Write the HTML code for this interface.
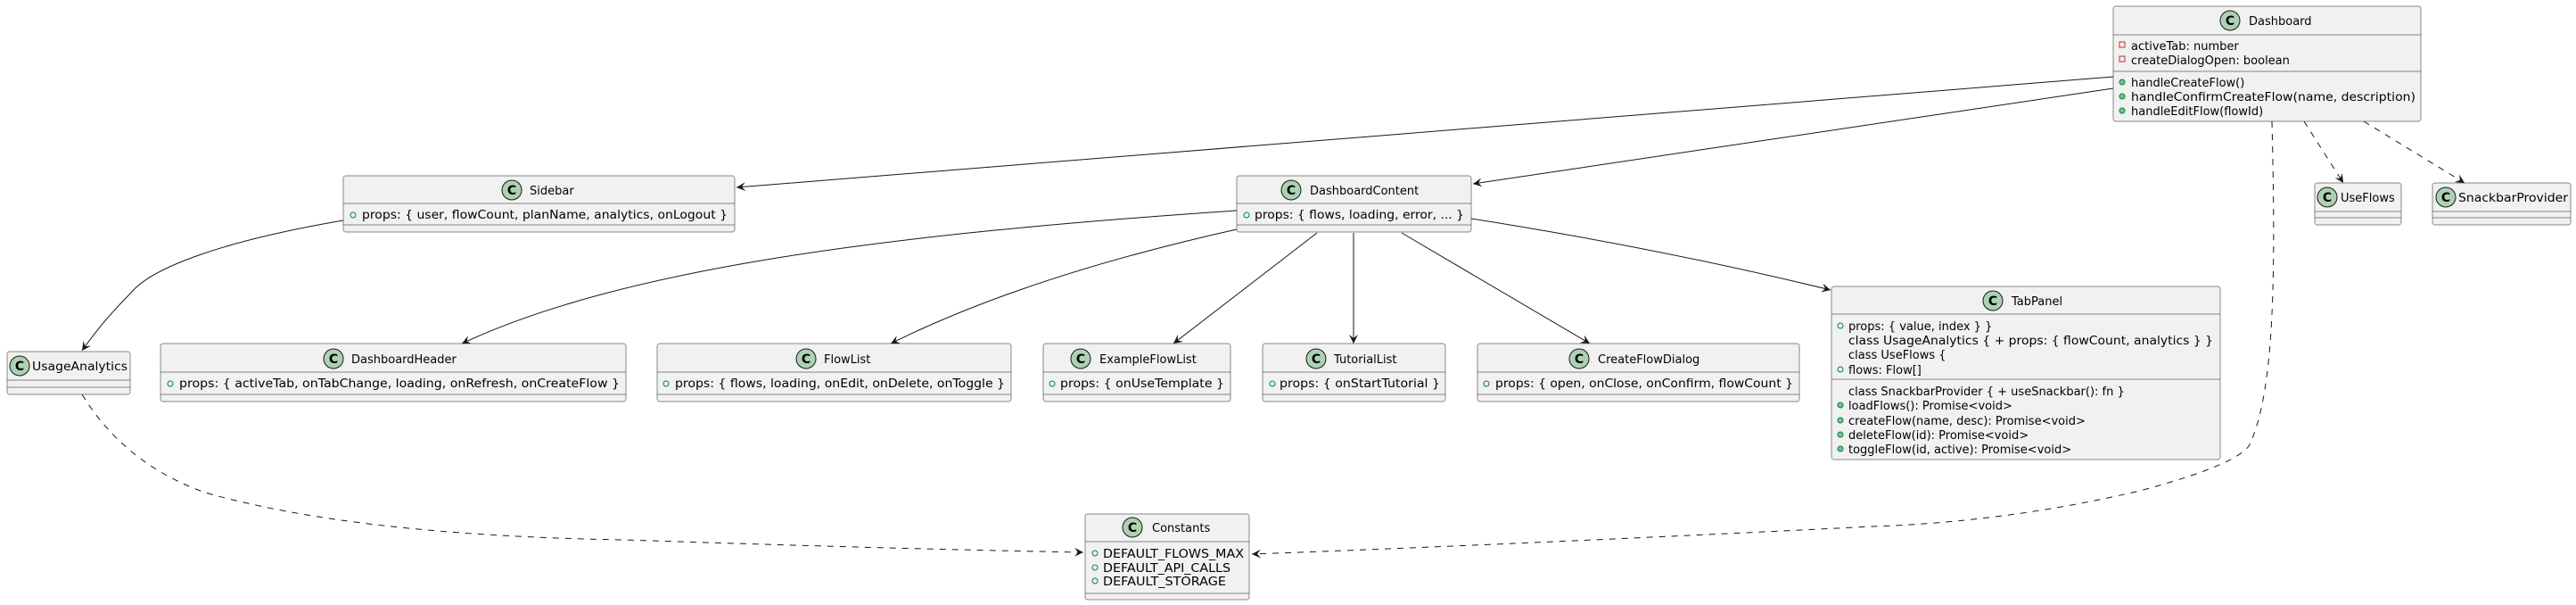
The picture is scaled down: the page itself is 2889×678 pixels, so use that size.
<!DOCTYPE html>
<html><head><meta charset="utf-8"><style>
html,body{margin:0;padding:0;background:#fff;}
svg{display:block;}
text{font-family:"DejaVu Sans","Liberation Sans",sans-serif;font-size:13px;fill:#000;}
.box{fill:#F1F1F1;stroke:#181818;stroke-width:0.5;}
.sep{stroke:#181818;stroke-width:0.5;}
.ic{fill:#ADD1B2;stroke:#181818;stroke-width:1;}
.cl{font-weight:bold;font-size:14px;}
.e{fill:none;stroke:#181818;stroke-width:1;}
.d{fill:none;stroke:#181818;stroke-width:1;stroke-dasharray:7,7;}
.po{fill:none;stroke:#038048;stroke-width:1;}
.pf{fill:#84BE84;stroke:#038048;stroke-width:1;}
.pr{fill:none;stroke:#C82930;stroke-width:1;}
</style></head><body>
<svg width="2889" height="678" viewBox="0 0 2889 678" xmlns="http://www.w3.org/2000/svg">
<defs>
<marker id="a" markerWidth="12" markerHeight="10" refX="10" refY="5" orient="auto" markerUnits="userSpaceOnUse">
<path d="M0,0 L10,5 L0,10 L4,5 Z" fill="#181818"/>
</marker>
</defs>

<!-- edges -->
<path class="e" d="M2370,86 L826,210" marker-end="url(#a)"/>
<path class="e" d="M2370,99 L1652,206" marker-end="url(#a)"/>
<path class="e" d="M1387,236 C1000,262 700,300 518,385" marker-end="url(#a)"/>
<path class="e" d="M1387,257 Q1150,310 999,385" marker-end="url(#a)"/>
<path class="e" d="M1477,261 L1316,385" marker-end="url(#a)"/>
<path class="e" d="M1518,261 L1518,385" marker-end="url(#a)"/>
<path class="e" d="M1572,261 L1783,385" marker-end="url(#a)"/>
<path class="e" d="M1650,245 Q1860,278 2053,325" marker-end="url(#a)"/>
<path class="e" d="M385,247 C250,270 170,300 147,328 Q115,360 92,393" marker-end="url(#a)"/>
<path class="d" d="M92,442 Q140,520 230,552 Q400,600 700,605 Q1000,615 1215,619" marker-end="url(#a)"/>
<path class="d" d="M2548,136 C2552,300 2552,440 2522,500 Q2505,522 2400,550 Q2250,585 2100,590 Q1700,610 1404,621" marker-end="url(#a)"/>
<path class="d" d="M2584,136 L2628,205" marker-end="url(#a)"/>
<path class="d" d="M2651,136 L2764,205" marker-end="url(#a)"/>

<!-- Dashboard -->
<rect class="box" x="2370" y="7" width="345" height="129" rx="2.5"/>
<line class="sep" x1="2370" y1="39" x2="2715" y2="39"/>
<line class="sep" x1="2370" y1="80" x2="2715" y2="80"/>
<circle class="ic" cx="2501" cy="23" r="11"/><text class="cl" x="2501" y="28" text-anchor="middle">C</text>
<text x="2522" y="28">Dashboard</text>
<rect class="pr" x="2377" y="47" width="6" height="6"/><text x="2390" y="56">activeTab: number</text>
<rect class="pr" x="2377" y="63" width="6" height="6"/><text x="2390" y="72">createDialogOpen: boolean</text>
<circle class="pf" cx="2380" cy="92" r="3"/><text x="2390" y="97">handleCreateFlow()</text>
<circle class="pf" cx="2380" cy="108" r="3"/><text x="2390" y="113" textLength="319" lengthAdjust="spacingAndGlyphs">handleConfirmCreateFlow(name, description)</text>
<circle class="pf" cx="2380" cy="124" r="3"/><text x="2390" y="129">handleEditFlow(flowId)</text>

<!-- UseFlows -->
<rect class="box" x="2596" y="205" width="97" height="47" rx="2.5"/>
<line class="sep" x1="2596" y1="237" x2="2693" y2="237"/>
<line class="sep" x1="2596" y1="244" x2="2693" y2="244"/>
<circle class="ic" cx="2610" cy="221" r="11"/><text class="cl" x="2610" y="226" text-anchor="middle">C</text>
<text x="2625" y="226">UseFlows</text>

<!-- SnackbarProvider -->
<rect class="box" x="2728" y="205" width="155" height="47" rx="2.5"/>
<line class="sep" x1="2728" y1="237" x2="2883" y2="237"/>
<line class="sep" x1="2728" y1="244" x2="2883" y2="244"/>
<circle class="ic" cx="2743" cy="221" r="11"/><text class="cl" x="2743" y="226" text-anchor="middle">C</text>
<text x="2757" y="226" textLength="123" lengthAdjust="spacingAndGlyphs">SnackbarProvider</text>

<!-- Sidebar -->
<rect class="box" x="385" y="197" width="439" height="63" rx="2.5"/>
<line class="sep" x1="385" y1="228" x2="824" y2="228"/>
<line class="sep" x1="385" y1="252" x2="824" y2="252"/>
<circle class="ic" cx="574" cy="213" r="11"/><text class="cl" x="574" y="218" text-anchor="middle">C</text>
<text x="594" y="218">Sidebar</text>
<circle class="po" cx="396" cy="241" r="3"/><text x="406" y="245" textLength="410" lengthAdjust="spacingAndGlyphs">props: { user, flowCount, planName, analytics, onLogout }</text>

<!-- DashboardContent -->
<rect class="box" x="1387" y="197" width="263" height="63" rx="2.5"/>
<line class="sep" x1="1387" y1="228" x2="1650" y2="228"/>
<line class="sep" x1="1387" y1="252" x2="1650" y2="252"/>
<circle class="ic" cx="1448" cy="213" r="11"/><text class="cl" x="1448" y="218" text-anchor="middle">C</text>
<text x="1469" y="218">DashboardContent</text>
<circle class="po" cx="1398" cy="241" r="3"/><text x="1407" y="245" textLength="235" lengthAdjust="spacingAndGlyphs">props: { flows, loading, error, ... }</text>

<!-- UsageAnalytics -->
<rect class="box" x="8" y="394" width="138" height="48" rx="2.5"/>
<line class="sep" x1="8" y1="426" x2="146" y2="426"/>
<line class="sep" x1="8" y1="434" x2="146" y2="434"/>
<circle class="ic" cx="22" cy="410" r="11"/><text class="cl" x="22" y="415" text-anchor="middle">C</text>
<text x="36" y="415" textLength="107" lengthAdjust="spacingAndGlyphs">UsageAnalytics</text>

<!-- DashboardHeader -->
<rect class="box" x="180" y="385" width="522" height="65" rx="2.5"/>
<line class="sep" x1="180" y1="417" x2="702" y2="417"/>
<line class="sep" x1="180" y1="442" x2="702" y2="442"/>
<circle class="ic" cx="374" cy="402" r="11"/><text class="cl" x="374" y="407" text-anchor="middle">C</text>
<text x="394" y="407">DashboardHeader</text>
<circle class="po" cx="191" cy="430" r="3"/><text x="201" y="434" textLength="494" lengthAdjust="spacingAndGlyphs">props: { activeTab, onTabChange, loading, onRefresh, onCreateFlow }</text>

<!-- FlowList -->
<rect class="box" x="737" y="385" width="397" height="65" rx="2.5"/>
<line class="sep" x1="737" y1="417" x2="1134" y2="417"/>
<line class="sep" x1="737" y1="442" x2="1134" y2="442"/>
<circle class="ic" cx="904" cy="402" r="11"/><text class="cl" x="904" y="407" text-anchor="middle">C</text>
<text x="924" y="407">FlowList</text>
<circle class="po" cx="747" cy="430" r="3"/><text x="757" y="434" textLength="370" lengthAdjust="spacingAndGlyphs">props: { flows, loading, onEdit, onDelete, onToggle }</text>

<!-- ExampleFlowList -->
<rect class="box" x="1170" y="385" width="210" height="65" rx="2.5"/>
<line class="sep" x1="1170" y1="417" x2="1380" y2="417"/>
<line class="sep" x1="1170" y1="442" x2="1380" y2="442"/>
<circle class="ic" cx="1212" cy="402" r="11"/><text class="cl" x="1212" y="407" text-anchor="middle">C</text>
<text x="1233" y="407">ExampleFlowList</text>
<circle class="po" cx="1180" cy="430" r="3"/><text x="1189" y="434" textLength="184" lengthAdjust="spacingAndGlyphs">props: { onUseTemplate }</text>

<!-- TutorialList -->
<rect class="box" x="1416" y="385" width="205" height="65" rx="2.5"/>
<line class="sep" x1="1416" y1="417" x2="1621" y2="417"/>
<line class="sep" x1="1416" y1="442" x2="1621" y2="442"/>
<circle class="ic" cx="1476" cy="402" r="11"/><text class="cl" x="1476" y="407" text-anchor="middle">C</text>
<text x="1496" y="407">TutorialList</text>
<circle class="po" cx="1427" cy="430" r="3"/><text x="1435" y="434" textLength="180" lengthAdjust="spacingAndGlyphs">props: { onStartTutorial }</text>

<!-- CreateFlowDialog -->
<rect class="box" x="1657" y="385" width="361" height="65" rx="2.5"/>
<line class="sep" x1="1657" y1="417" x2="2018" y2="417"/>
<line class="sep" x1="1657" y1="442" x2="2018" y2="442"/>
<circle class="ic" cx="1771" cy="402" r="11"/><text class="cl" x="1771" y="407" text-anchor="middle">C</text>
<text x="1792" y="407">CreateFlowDialog</text>
<circle class="po" cx="1667" cy="430" r="3"/><text x="1677" y="434" textLength="334" lengthAdjust="spacingAndGlyphs">props: { open, onClose, onConfirm, flowCount }</text>

<!-- TabPanel -->
<rect class="box" x="2054" y="321" width="436" height="194" rx="2.5"/>
<line class="sep" x1="2054" y1="352" x2="2490" y2="352"/>
<line class="sep" x1="2054" y1="425" x2="2490" y2="425"/>
<circle class="ic" cx="2235" cy="337" r="11"/><text class="cl" x="2235" y="342" text-anchor="middle">C</text>
<text x="2256" y="342">TabPanel</text>
<circle class="po" cx="2064" cy="365" r="3"/><text x="2073" y="370">props: { value, index } }</text>
<text x="2073" y="386" textLength="409" lengthAdjust="spacingAndGlyphs">class UsageAnalytics { + props: { flowCount, analytics } }</text>
<text x="2073" y="402">class UseFlows {</text>
<circle class="po" cx="2064" cy="414" r="3"/><text x="2073" y="419">flows: Flow[]</text>
<text x="2073" y="443">class SnackbarProvider { + useSnackbar(): fn }</text>
<circle class="pf" cx="2064" cy="454" r="3"/><text x="2073" y="459">loadFlows(): Promise&lt;void&gt;</text>
<circle class="pf" cx="2064" cy="471" r="3"/><text x="2073" y="476">createFlow(name, desc): Promise&lt;void&gt;</text>
<circle class="pf" cx="2064" cy="487" r="3"/><text x="2073" y="492">deleteFlow(id): Promise&lt;void&gt;</text>
<circle class="pf" cx="2064" cy="503" r="3"/><text x="2073" y="508">toggleFlow(id, active): Promise&lt;void&gt;</text>

<!-- Constants -->
<rect class="box" x="1217" y="576" width="184" height="96" rx="2.5"/>
<line class="sep" x1="1217" y1="607" x2="1401" y2="607"/>
<line class="sep" x1="1217" y1="665" x2="1401" y2="665"/>
<circle class="ic" cx="1270" cy="591" r="11"/><text class="cl" x="1270" y="596" text-anchor="middle">C</text>
<text x="1292" y="596">Constants</text>
<circle class="po" cx="1228" cy="620" r="3"/><text x="1237" y="625" textLength="158" lengthAdjust="spacingAndGlyphs">DEFAULT_FLOWS_MAX</text>
<circle class="po" cx="1228" cy="636" r="3"/><text x="1237" y="641" textLength="143" lengthAdjust="spacingAndGlyphs">DEFAULT_API_CALLS</text>
<circle class="po" cx="1228" cy="651" r="3"/><text x="1237" y="656" textLength="138" lengthAdjust="spacingAndGlyphs">DEFAULT_STORAGE</text>
</svg>
</body></html>
